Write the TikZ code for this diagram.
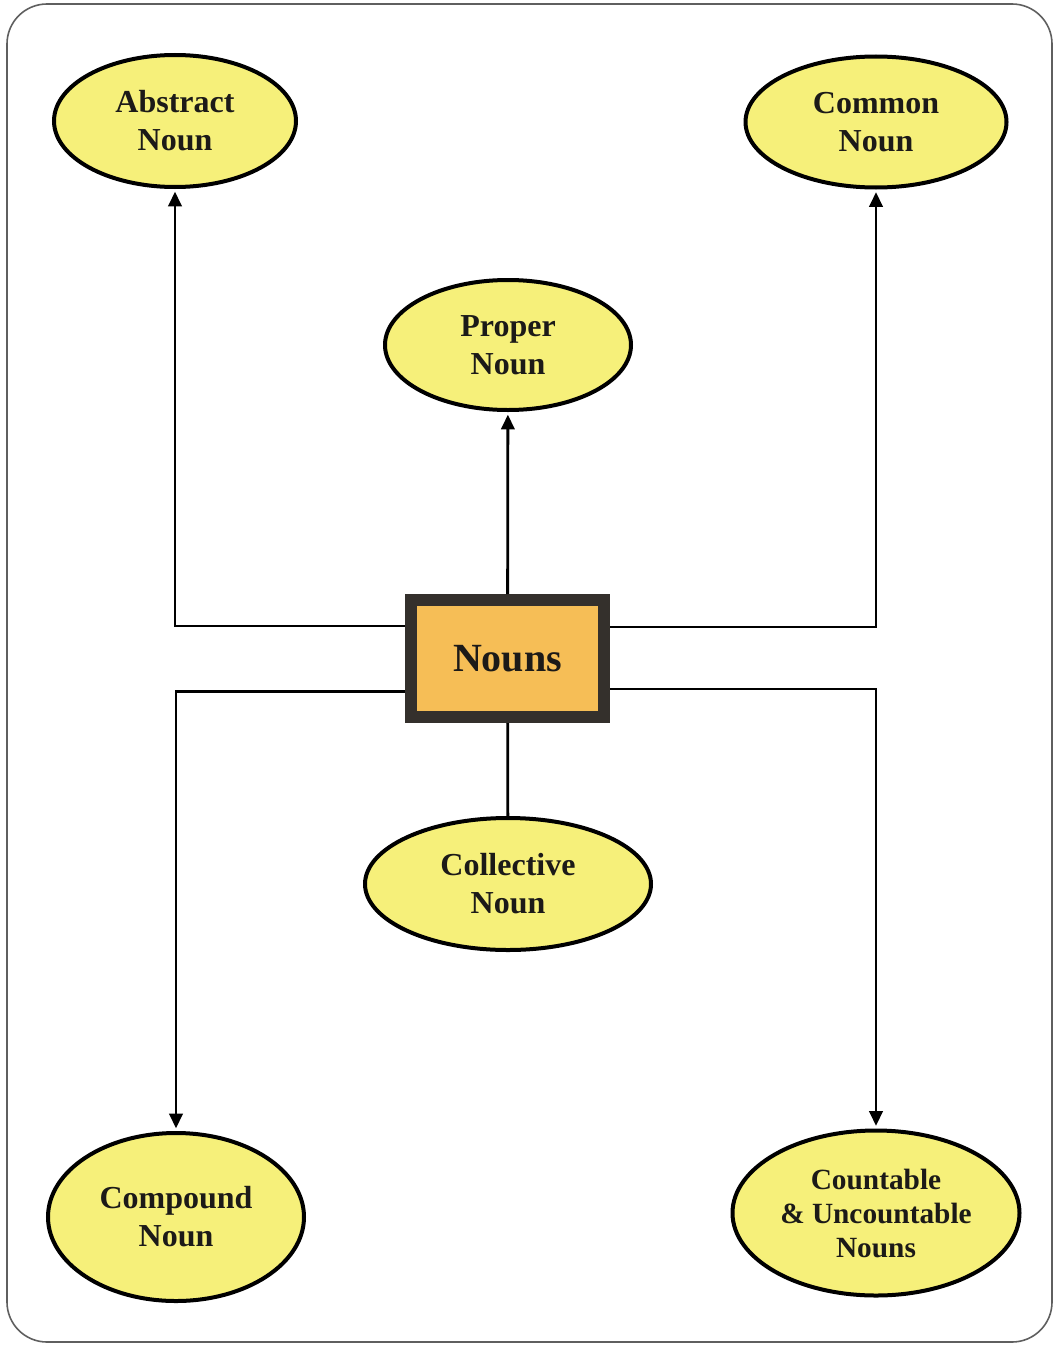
\documentclass[tikz,border=0pt]{standalone}
\usepackage{fontspec}
\setmainfont{Liberation Serif}
\usetikzlibrary{shapes.geometric,arrows.meta}
\definecolor{ellyellow}{RGB}{246,240,122}
\definecolor{boxorange}{RGB}{246,190,86}
\definecolor{boxborder}{RGB}{52,48,44}
\definecolor{txt}{RGB}{28,26,24}
\definecolor{framegray}{RGB}{95,95,95}
\tikzset{
  oval/.style={ellipse, draw=black, line width=3pt, fill=ellyellow, inner sep=0pt,
    align=center, text=txt, font=\fontsize{24}{28.5}\selectfont\bfseries},
  mainbox/.style={rectangle, draw=boxborder, line width=9pt, fill=boxorange, inner sep=0pt,
    text=txt, font=\fontsize{30}{34}\selectfont\bfseries,
    minimum width=193*0.75pt, minimum height=117*0.75pt},
  conn/.style={line width=2.1pt, draw=black},
  arr/.style={conn, -{Triangle[length=11pt,width=10pt]}, shorten >=2pt}
}
\begin{document}
\begin{tikzpicture}[x=0.75pt,y=-0.75pt]
\useasboundingbox (0,0) rectangle (1055,1345);
\draw[framegray, line width=1.2pt, rounded corners=30pt] (7,4) rectangle (1052,1342);

\node[mainbox] (nouns) at (507.5,658.5) {Nouns};

\node[oval, minimum width=242*0.75pt, minimum height=132*0.75pt] (abstract) at (175,121) {Abstract\\Noun};
\node[oval, minimum width=261*0.75pt, minimum height=131*0.75pt] (common) at (876,122) {Common\\Noun};
\node[oval, minimum width=246*0.75pt, minimum height=130*0.75pt] (proper) at (508,345) {Proper\\Noun};
\node[oval, minimum width=286*0.75pt, minimum height=132*0.75pt] (collective) at (508,884) {Collective\\Noun};
\node[oval, minimum width=256*0.75pt, minimum height=168*0.75pt] (compound) at (176,1217) {Compound\\Noun};
\node[oval, minimum width=287*0.75pt, minimum height=165*0.75pt,
  font=\fontsize{22}{25.5}\selectfont\bfseries] (countable) at (876,1213) {Countable\\\& Uncountable\\Nouns};

\draw[arr] ([yshift=24.4pt]nouns.west) -| (abstract);
\draw[arr] ([yshift=23.6pt]nouns.east) -| (common);
\draw[arr] (nouns) -- (proper);
\draw[arr] ([yshift=-25pt]nouns.west) -| (compound);
\draw[arr] ([yshift=-22.9pt]nouns.east) -| (countable);
\draw[conn] (nouns) -- (collective);
\end{tikzpicture}
\end{document}
